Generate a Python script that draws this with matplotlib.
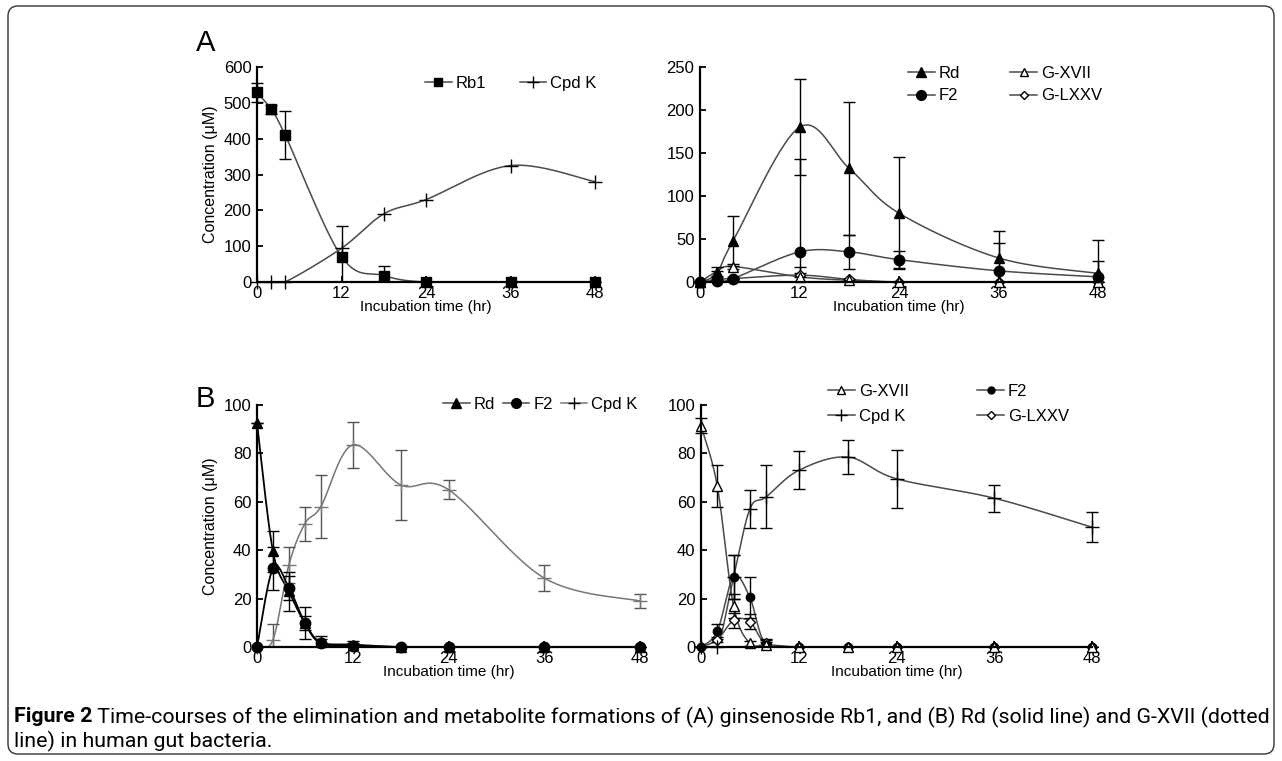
import numpy as np
import matplotlib
matplotlib.use('Agg')
import matplotlib.pyplot as plt
from matplotlib.patches import FancyBboxPatch, Rectangle
from matplotlib.lines import Line2D
from matplotlib.transforms import IdentityTransform
from matplotlib import font_manager

plt.rcParams['font.family'] = ['Liberation Sans', 'DejaVu Sans']

# ---------------- data ----------------
t_A = [0, 2, 4, 12, 18, 24, 36, 48]
A_rb1 = [529, 482, 410, 71, 18, 0, 0, 0]
A_rb1_err = [26, 12, 66, 85, 27, 0, 0, 0]
A_cpdk = [0, 0, 0, 94, 190, 230, 325, 280]

A_rd = [0, 10, 48, 180, 132, 80, 28, 10]
A_rd_err = [0, 3, 29, 56, 77, 65, 31, 39]
A_f2 = [0, 1, 4, 35, 35, 26, 13, 6]
A_f2_err = [0, 0, 0, 108, 20, 10, 32, 18]
A_gxvii = [0, 12, 18, 6, 2, 0, 0, 0]
A_gxvii_err = [0, 6, 3, 11, 2, 0, 0, 0]
A_glxxv = [0, 3, 4, 8, 3, 0, 0, 0]
A_glxxv_err = [0, 1, 2, 2, 1, 0, 0, 0]

t_B = [0, 2, 4, 6, 8, 12, 18, 24, 36, 48]
B1_rd = [92.5, 39.5, 23, 10, 2, 1, 0, 0, 0, 0]
B1_rd_err = [0, 8.5, 8, 3, 2.5, 1.5, 0, 0, 0, 0]
B1_f2 = [0, 32.5, 24.5, 10, 1.5, 0.5, 0, 0, 0, 0]
B1_f2_err = [0, 9, 5, 6.5, 2, 1, 0, 0, 0, 0]
B1_cpdk = [0, 3, 34, 51, 58, 83.5, 67, 65, 28.5, 19]
B1_cpdk_err = [0, 6.5, 7.5, 7, 13, 9.5, 14.5, 4, 5.5, 3]

B2_gxvii = [91.5, 66.5, 17, 1.5, 1, 0, 0, 0, 0, 0]
B2_gxvii_err = [3, 8.5, 5, 1, 1, 0, 0, 0, 0, 0]
B2_cpdk = [0, 0, 29, 57, 62, 73, 78.5, 69.5, 61.5, 49.5]
B2_cpdk_err = [0, 0, 9, 8, 13, 7.8, 7.2, 12, 5.6, 6.2]
B2_f2 = [0, 6.5, 29, 20.5, 1, 0, 0, 0, 0, 0]
B2_f2_err = [0, 3, 9, 8.5, 2, 0, 0, 0, 0, 0]
B2_glxxv = [0, 3, 11, 10.5, 1.5, 0, 0, 0, 0, 0]
B2_glxxv_err = [0, 1, 3, 3, 2, 0, 0, 0, 0, 0]

x_ticks = [0, 12, 24, 36, 48]
x_label = 'Incubation time (hr)'
y_label = 'Concentration (\u03bcM)'
caption_bold = 'Figure 2'
caption_1 = ' Time-courses of the elimination and metabolite formations of (A) ginsenoside Rb1, and (B) Rd (solid line) and G-XVII (dotted'
caption_2 = 'line) in human gut bacteria.'

# ---------------- figure ----------------
W, H = 1282, 761
fig = plt.figure(figsize=(W / 100, H / 100), dpi=100)


def ax_px(l, r, b, t):
    return fig.add_axes([l / W, 1 - b / H, (r - l) / W, (b - t) / H])


def smooth(x, y, n=30):
    """Excel-like smoothed line (Catmull-Rom as cubic Bezier)."""
    P = np.column_stack([np.asarray(x, float), np.asarray(y, float)])
    m = len(P)
    out = []
    tt = np.linspace(0, 1, n)[:, None]
    for i in range(m - 1):
        p0 = P[i - 1] if i > 0 else P[i]
        p1, p2 = P[i], P[i + 1]
        p3 = P[i + 2] if i + 2 < m else P[i + 1]
        c1 = p1 + (p2 - p0) / 6.0
        c2 = p2 - (p3 - p1) / 6.0
        seg = ((1 - tt) ** 3) * p1 + 3 * ((1 - tt) ** 2) * tt * c1 + 3 * (1 - tt) * tt ** 2 * c2 + tt ** 3 * p2
        out.append(seg if i == 0 else seg[1:])
    S = np.vstack(out)
    return S[:, 0], S[:, 1]


LINE = '#4a4a4a'


def clip_rect(ax):
    # plot area: cut at y = 0, a little room left/right/top for caps
    r = Rectangle((-0.04, 0.0), 1.08, 1.1, transform=ax.transAxes, fill=False, visible=False)
    ax.add_patch(r)
    return r


def series(ax, t, y, err, marker, ms, mfc, mec='black', lc=LINE, ec='black', lw=1.1, zo=3):
    cr = clip_rect(ax)
    sx, sy = smooth(t, y)
    ln, = ax.plot(sx, sy, color=lc, lw=lw, zorder=zo)
    ln.set_clip_path(cr)
    if err is not None:
        eb = ax.errorbar(t, y, yerr=err, fmt='none', ecolor=ec, elinewidth=1.0,
                         capsize=4, capthick=1.0, zorder=zo + 1)
        for art in eb.get_children():
            art.set_clip_path(cr)
    ax.plot(t, y, linestyle='none', marker=marker, ms=ms, mfc=mfc, mec=mec,
            mew=1.0, zorder=zo + 2, clip_on=False)


def style_axes(ax, ymax, ystep, show_ylabel=False):
    ax.set_xlim(0, 48)
    ax.set_ylim(0, ymax)
    ax.set_xticks(x_ticks)
    ax.set_yticks(np.arange(0, ymax + 1, ystep))
    for s in ['top', 'right']:
        ax.spines[s].set_visible(False)
    for s in ['left', 'bottom']:
        ax.spines[s].set_linewidth(1.6)
        ax.spines[s].set_color('black')
        ax.spines[s].set_zorder(10)
    ax.tick_params(axis='both', labelsize=12, width=1.3, length=4)
    ax.tick_params(axis='y', direction='in', pad=4)
    ax.tick_params(axis='x', direction='in', pad=3)
    ax.set_xlabel(x_label, fontsize=11, labelpad=-1)
    if show_ylabel:
        ax.set_ylabel(y_label, fontsize=11.5, labelpad=4)
    ax.patch.set_alpha(0)


def proxy(marker, ms, mfc, lc=LINE):
    return Line2D([], [], color=lc, lw=1.1, marker=marker, ms=ms, mfc=mfc, mec='black', mew=1.0)


def legend(ax, handles, labels, x, y, ncol, colsp, labsp=0.25):
    ax.legend(handles, labels, loc='upper left', bbox_to_anchor=(x / W, 1 - y / H),
              bbox_transform=fig.transFigure, frameon=False, ncol=ncol,
              handlelength=1.6, handletextpad=0.25, columnspacing=colsp,
              labelspacing=labsp, borderpad=0, borderaxespad=0, fontsize=12)


# ---- Panel A left ----
axA1 = ax_px(257, 595, 282, 67)
series(axA1, t_A, A_rb1, A_rb1_err, 's', 7.5, 'black')
series(axA1, t_A, A_cpdk, None, '+', 10, 'none', lc=LINE)
style_axes(axA1, 600, 100, show_ylabel=True)
legend(axA1, [proxy('s', 6, 'black'), proxy('+', 9, 'none')], ['Rb1', 'Cpd K'],
       425, 76, 2, 2.0)

# ---- Panel A right ----
axA2 = ax_px(700, 1098, 282, 67)
series(axA2, t_A, A_glxxv, A_glxxv_err, 'D', 5, 'white')
series(axA2, t_A, A_gxvii, A_gxvii_err, '^', 6.5, 'white')
series(axA2, t_A, A_f2, A_f2_err, 'o', 7.5, 'black')
series(axA2, t_A, A_rd, A_rd_err, '^', 7.5, 'black')
style_axes(axA2, 250, 50)
legend(axA2, [proxy('^', 6.5, 'black'), proxy('o', 7, 'black'),
              proxy('^', 5.5, 'white'), proxy('D', 4.5, 'white')],
       ['Rd', 'F2', 'G-XVII', 'G-LXXV'], 908, 66, 2, 3.0, 0.45)

# ---- Panel B left ----
axB1 = ax_px(257, 640, 647, 405)
series(axB1, t_B, B1_cpdk, B1_cpdk_err, '+', 10, 'none', mec='#777777', lc='#777777', ec='#555555')
series(axB1, t_B, B1_f2, B1_f2_err, 'o', 7.5, 'black', lc='black', lw=1.3)
series(axB1, t_B, B1_rd, B1_rd_err, '^', 7.5, 'black', lc='black', lw=1.3)
style_axes(axB1, 100, 20, show_ylabel=True)
legend(axB1, [proxy('^', 6.5, 'black'), proxy('o', 7, 'black'), proxy('+', 9, 'none', lc='#777777')],
       ['Rd', 'F2', 'Cpd K'], 443, 397, 3, 0.45)

# ---- Panel B right ----
axB2 = ax_px(701, 1092, 647, 405)
series(axB2, t_B, B2_glxxv, B2_glxxv_err, 'D', 5, 'white')
series(axB2, t_B, B2_f2, B2_f2_err, 'o', 6, 'black')
series(axB2, t_B, B2_cpdk, B2_cpdk_err, '+', 10, 'none')
series(axB2, t_B, B2_gxvii, B2_gxvii_err, '^', 6.5, 'white')
style_axes(axB2, 100, 20)
legend(axB2, [proxy('^', 5.5, 'white'), proxy('+', 9, 'none'),
              proxy('o', 5, 'black'), proxy('D', 4.5, 'white')],
       ['G-XVII', 'Cpd K', 'F2', 'G-LXXV'], 828, 384, 2, 4.1, 0.6)

# panel letters
fig.text(196 / W, 1 - 43 / H, 'A', fontsize=21, va='center', ha='left')
fig.text(196 / W, 1 - 399 / H, 'B', fontsize=21, va='center', ha='left')

# border
border = FancyBboxPatch((8, H - 754), 1266, 748, boxstyle='round,pad=0,rounding_size=10',
                        transform=IdentityTransform(), fill=False, edgecolor='#333333', lw=1.0)
fig.add_artist(border)

# caption: fit the first line to the frame width
names = {f.name for f in font_manager.fontManager.ttflist}
cap_kw = dict(family=['Liberation Sans', 'DejaVu Sans'])
for cand in ['Roboto', 'Liberation Sans Narrow', 'Roboto Condensed']:
    if cand in names:
        cap_kw = dict(family=[cand, 'DejaVu Sans'])
        break

renderer = fig.canvas.get_renderer()
fs = 12.0
tb = fig.text(14 / W, 1 - 717 / H, caption_bold, fontsize=fs, fontweight='bold', va='center', ha='left', **cap_kw)
tr = fig.text(0, 1 - 717 / H, caption_1, fontsize=fs, va='center', ha='left', **cap_kw)
b1 = tb.get_window_extent(renderer=renderer)
b2 = tr.get_window_extent(renderer=renderer)
fs = fs * (1270 - 14) / (b1.width + b2.width)
tb.set_fontsize(fs)
tr.set_fontsize(fs)
b1 = tb.get_window_extent(renderer=renderer)
tr.set_x(b1.x1 / W)
fig.text(14 / W, 1 - 741 / H, caption_2, fontsize=fs, va='center', ha='left', **cap_kw)

fig.savefig('out.png', dpi=100)
